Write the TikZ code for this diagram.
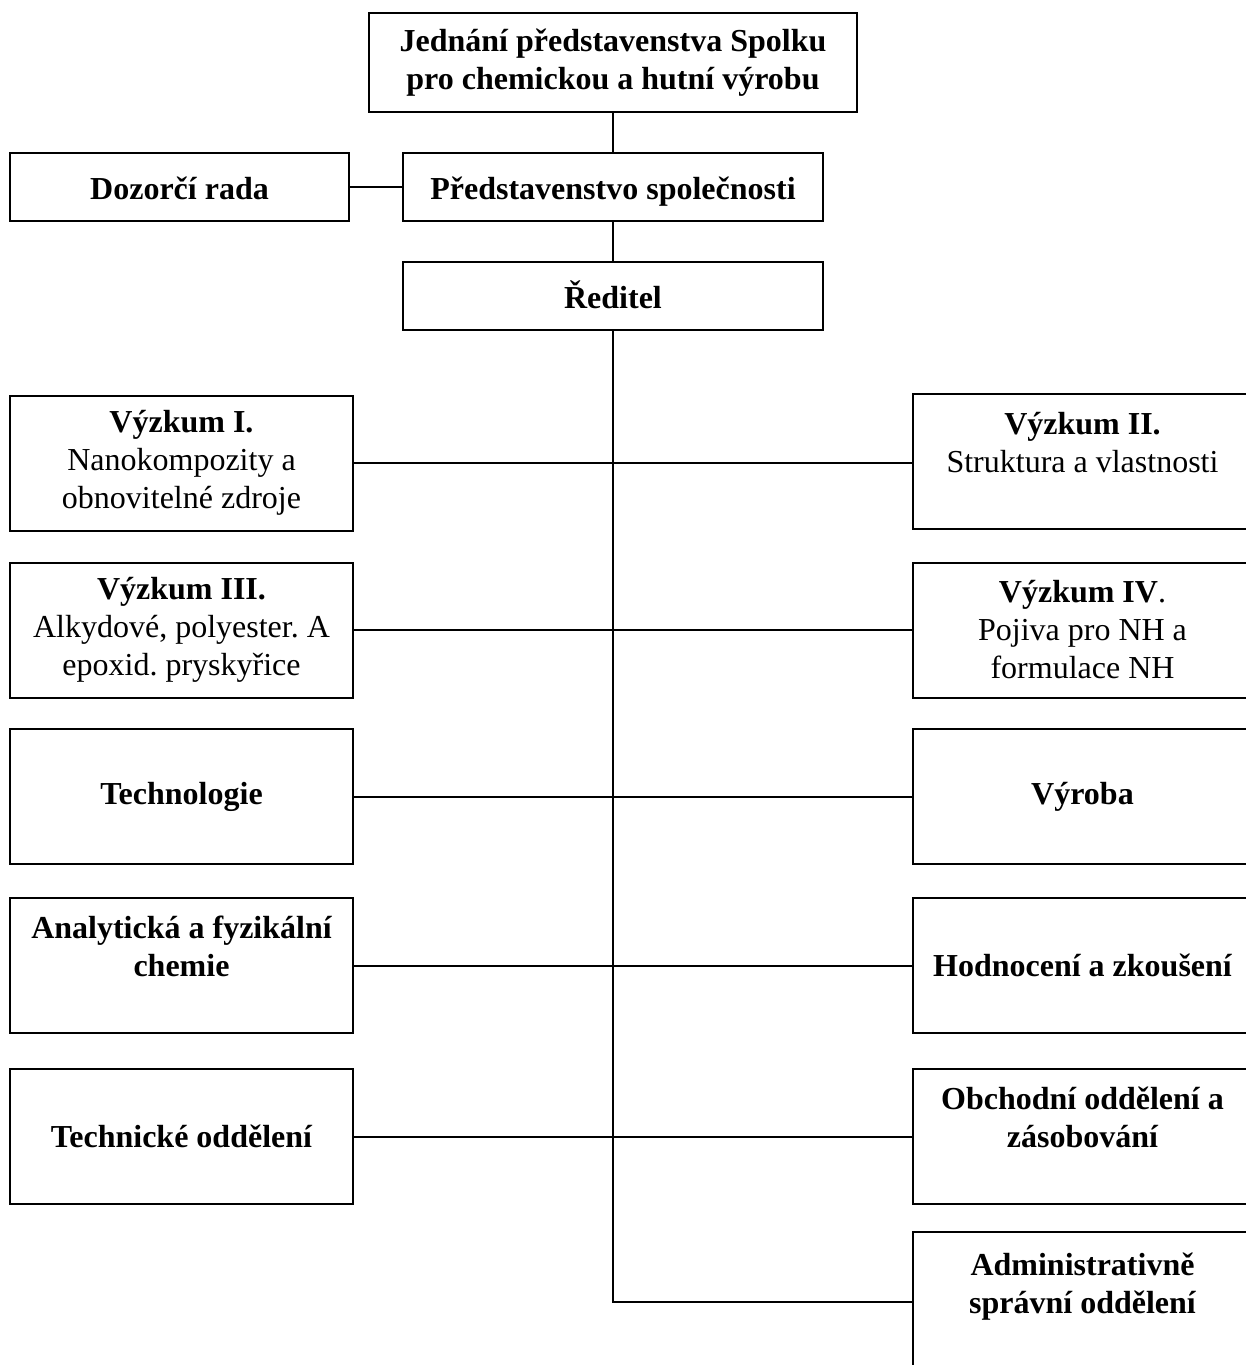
\documentclass[tikz,border=0pt]{standalone}
\usepackage{fontspec}
\setmainfont{Liberation Serif}
\frenchspacing
\begin{document}
\begin{tikzpicture}[x=0.5pt, y=-0.5pt, line width=1pt,
    box/.style={draw, rectangle, align=center, inner sep=0pt,
      font=\fontsize{16}{19}\selectfont},
    side/.style={box, minimum width=171.5pt, minimum height=67.5pt},
    wide/.style={box, minimum width=210pt, minimum height=34pt,
      text height=12pt, text depth=0pt}]
  \useasboundingbox (0, 0) rectangle (1246, 1365);
  \clip (0, 0) rectangle (1246, 1365);

  % vedeni
  \node[box, minimum width=244pt, minimum height=49.5pt] (spolek) at (613, 62.5)
    {\bfseries Jednání představenstva Spolku\\ \bfseries pro chemickou a hutní výrobu};
  \node[wide] (predst) at (613, 187) {\bfseries Představenstvo společnosti};
  \node[wide, minimum width=169.5pt] (dozor) at (179.5, 187) {\bfseries Dozorčí rada};
  \node[wide] (reditel) at (613, 296) {\bfseries Ředitel};

  % levy sloupec
  \node[side] (vyzk1) at (181.5, 463)
    {\textbf{Výzkum I.}\\ Nanokompozity a\\ obnovitelné zdroje};
  \node[side] (vyzk3) at (181.5, 630)
    {\textbf{Výzkum III.}\\ Alkydové, polyester. A\\ epoxid. pryskyřice};
  \node[side] (techn) at (181.5, 796.5) {\bfseries Technologie};
  \node[side] (analyt) at (181.5, 965.5)
    {\bfseries Analytická a fyzikální\\ \bfseries chemie\\ ~};
  \node[side] (techodd) at (181.5, 1136.5) {\bfseries Technické oddělení};

  % pravy sloupec
  \node[side, minimum width=169.5pt] (vyzk2) at (1082.5, 461)
    {\textbf{Výzkum II.}\\ Struktura a vlastnosti\\ ~};
  \node[side, minimum width=169.5pt] (vyzk4) at (1082.5, 630)
    {\textbf{Výzkum IV}.\\ Pojiva pro NH a\\ formulace NH};
  \node[side, minimum width=169.5pt] (vyroba) at (1082.5, 796.5) {\bfseries Výroba};
  \node[side, minimum width=169.5pt] (hodnoc) at (1082.5, 965.5) {\bfseries Hodnocení a zkoušení};
  \node[side, minimum width=169.5pt] (obchod) at (1082.5, 1136.5)
    {\bfseries Obchodní oddělení a\\ \bfseries zásobování\\ ~};
  \node[side, minimum width=169.5pt, minimum height=70pt] (admin) at (1082.5, 1302)
    {\bfseries Administrativně\\ \bfseries správní oddělení\\ ~};

  % spojnice
  \draw (spolek) -- (predst);
  \draw (dozor) -- (predst);
  \draw (predst) -- (reditel);
  \draw (reditel.south) |- (admin.west);
  \draw (vyzk1.east) -- (vyzk1.east -| vyzk2.west);
  \draw (vyzk3) -- (vyzk4);
  \draw (techn) -- (vyroba);
  \draw (analyt) -- (hodnoc);
  \draw (techodd) -- (obchod);
\end{tikzpicture}
\end{document}
